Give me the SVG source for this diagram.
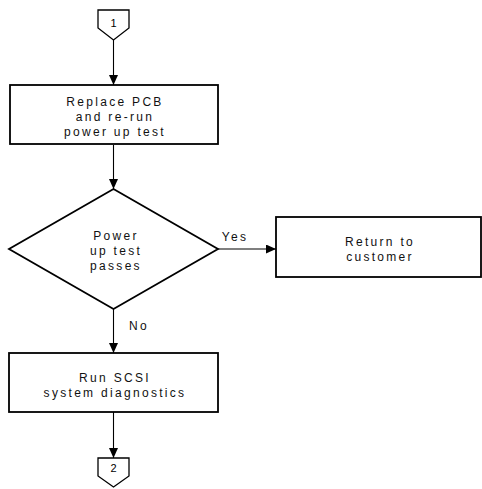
<svg xmlns="http://www.w3.org/2000/svg" width="482" height="489" viewBox="0 0 482 489">
<style>
.shape{fill:#fff;stroke:#000;stroke-width:1.8}
.off{fill:#fff;stroke:#000;stroke-width:1.3}
.conn{fill:none;stroke:#000;stroke-width:1.1}
.t{font-family:"Liberation Sans",Arial,sans-serif;font-size:12px;letter-spacing:2.3px;fill:#111;text-anchor:middle}
.s{font-family:"Liberation Sans",Arial,sans-serif;font-size:11px;fill:#000;text-anchor:middle}
</style>
<defs>
<marker id="ah" markerUnits="userSpaceOnUse" markerWidth="10" markerHeight="10" refX="10" refY="4.5" orient="auto">
<path d="M0,0 L10,4.5 L0,9 z" fill="#000"/>
</marker>
</defs>
<g id="connectors">
<line class="conn" x1="113.5" y1="40" x2="113.5" y2="85" marker-end="url(#ah)"/>
<line class="conn" x1="113.5" y1="145" x2="113.5" y2="189" marker-end="url(#ah)"/>
<line class="conn" x1="218" y1="249" x2="276" y2="249" marker-end="url(#ah)"/>
<line class="conn" x1="113.5" y1="309" x2="113.5" y2="353" marker-end="url(#ah)"/>
<line class="conn" x1="113.5" y1="412" x2="113.5" y2="458" marker-end="url(#ah)"/>
<text class="t" x="235" y="241">Yes</text>
<text class="t" x="139" y="330">No</text>
</g>
<g id="off1">
<path class="off" d="M98,10 L129,10 L129,28 L113.5,40 L98,28 z"/>
<text class="s" x="113.5" y="27">1</text>
</g>
<g id="replace">
<rect class="shape" x="10" y="85" width="208" height="59"/>
<text class="t" x="115" y="105.5">Replace PCB</text>
<text class="t" x="115" y="120.5">and re-run</text>
<text class="t" x="115" y="135.5">power up test</text>
</g>
<g id="decision">
<path class="shape" d="M113.5,189 L218,249 L113.5,309 L9,249 z"/>
<text class="t" x="116" y="240">Power</text>
<text class="t" x="116" y="255">up test</text>
<text class="t" x="116" y="270">passes</text>
</g>
<g id="return">
<rect class="shape" x="276" y="217" width="205" height="60"/>
<text class="t" x="380" y="246">Return to</text>
<text class="t" x="380" y="261">customer</text>
</g>
<g id="scsi">
<rect class="shape" x="9" y="353" width="209" height="59"/>
<text class="t" x="115" y="382">Run SCSI</text>
<text class="t" x="115" y="397">system diagnostics</text>
</g>
<g id="off2">
<path class="off" d="M98,458 L129,458 L129,476 L113.5,487 L98,476 z"/>
<text class="s" x="113.5" y="472">2</text>
</g>
</svg>
